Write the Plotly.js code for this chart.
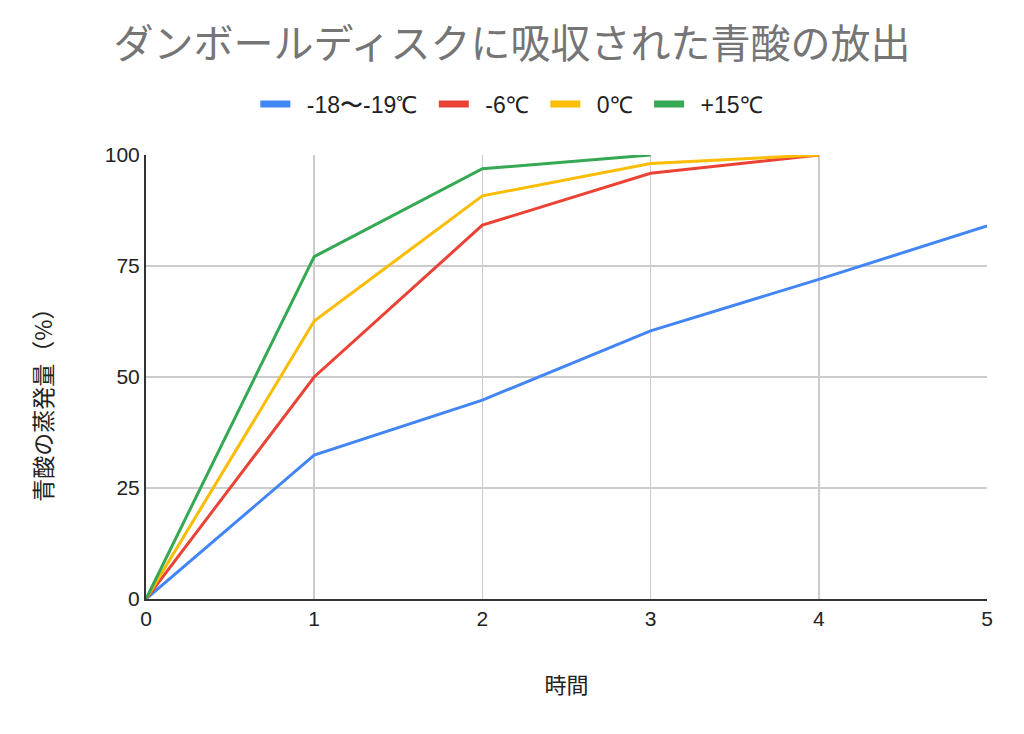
<!DOCTYPE html>
<html>
<head>
<meta charset="utf-8">
<script src="https://cdn.plot.ly/plotly-3.0.1.min.js"></script>
<style>html,body{margin:0;padding:0;background:#fff;}#chart{width:1024px;height:734px;}</style>
</head>
<body>
<div id="chart"></div>
<script>
const hours = [0, 1, 2, 3, 4, 5];
const seriesNames = ["-18〜-19℃", "-6℃", "0℃", "+15℃"];
const valsCold = [0, 32.4, 44.8, 60.4, 72.0, 84.0];
const valsMinus6 = [0, 50, 84.2, 95.9, 100];
const valsZero = [0, 62.6, 90.8, 98.1, 100];
const valsPlus15 = [0, 77.1, 96.9, 100];
const colors = ["#4285f4", "#ea4335", "#fbbc04", "#34a853"];
const allVals = [valsCold, valsMinus6, valsZero, valsPlus15];
const yTitle = '青酸の蒸発量（%）';
const xTitle = '時間';

const font = 'Arial, "Liberation Sans", sans-serif';
const cjk = '"Noto Sans CJK JP", sans-serif';
const traces = allVals.map((v, i) => ({
  x: hours.slice(0, v.length),
  y: v,
  name: seriesNames[i],
  type: 'scatter',
  mode: 'lines',
  cliponaxis: false,
  showlegend: false,
  line: {color: colors[i], width: 3}
}));
// legend entries (thick swatches like the reference)
allVals.forEach((v, i) => {
  const last = i === allVals.length - 1;
  traces.push({
    x: [null], y: [null], name: '\u2002' + seriesNames[i] + (last ? '' : '\u2002'), type: 'scatter', mode: 'lines',
    showlegend: true, hoverinfo: 'skip', line: {color: colors[i], width: 7}
  });
});

const layout = {
  width: 1024, height: 734,
  paper_bgcolor: '#fff', plot_bgcolor: '#fff',
  margin: {l: 146, r: 37, t: 155, b: 135},
  font: {family: font, color: '#222', size: 22},
  title: {text: 'ダンボールディスクに吸収された青酸の放出', x: 0.5, xanchor: 'center', y: 0.94, yanchor: 'middle',
    font: {family: cjk, size: 40, color: '#757575'}},
  showlegend: true,
  legend: {orientation: 'h', x: 0.435, xanchor: 'center', y: 1.115, yanchor: 'middle',
    font: {family: font, size: 23, color: '#222'}, itemwidth: 30, traceorder: 'normal'},
  xaxis: {
    range: [0, 5], tickvals: hours, showgrid: true, gridcolor: '#cccccc', gridwidth: 1.5,
    showline: true, linecolor: '#333', linewidth: 2, zeroline: false,
    ticks: '', tickfont: {family: font, size: 21, color: '#222'},
    title: {text: xTitle, font: {family: cjk, size: 22, color: '#222'}, standoff: 48}
  },
  yaxis: {
    range: [0, 100], tickvals: [0, 25, 50, 75, 100], showgrid: true, gridcolor: '#cccccc', gridwidth: 1.5,
    showline: true, linecolor: '#333', linewidth: 2, zeroline: false,
    ticks: '', tickfont: {family: font, size: 21, color: '#222'}
  },
  annotations: [{
    text: yTitle, xref: 'paper', yref: 'paper', x: -0.123, y: 0.45, xanchor: 'center', yanchor: 'middle',
    textangle: -90, showarrow: false, font: {family: cjk, size: 23, color: '#222'}
  }]
};

Plotly.newPlot('chart', traces, layout, {displayModeBar: false, staticPlot: true});
</script>
</body>
</html>
